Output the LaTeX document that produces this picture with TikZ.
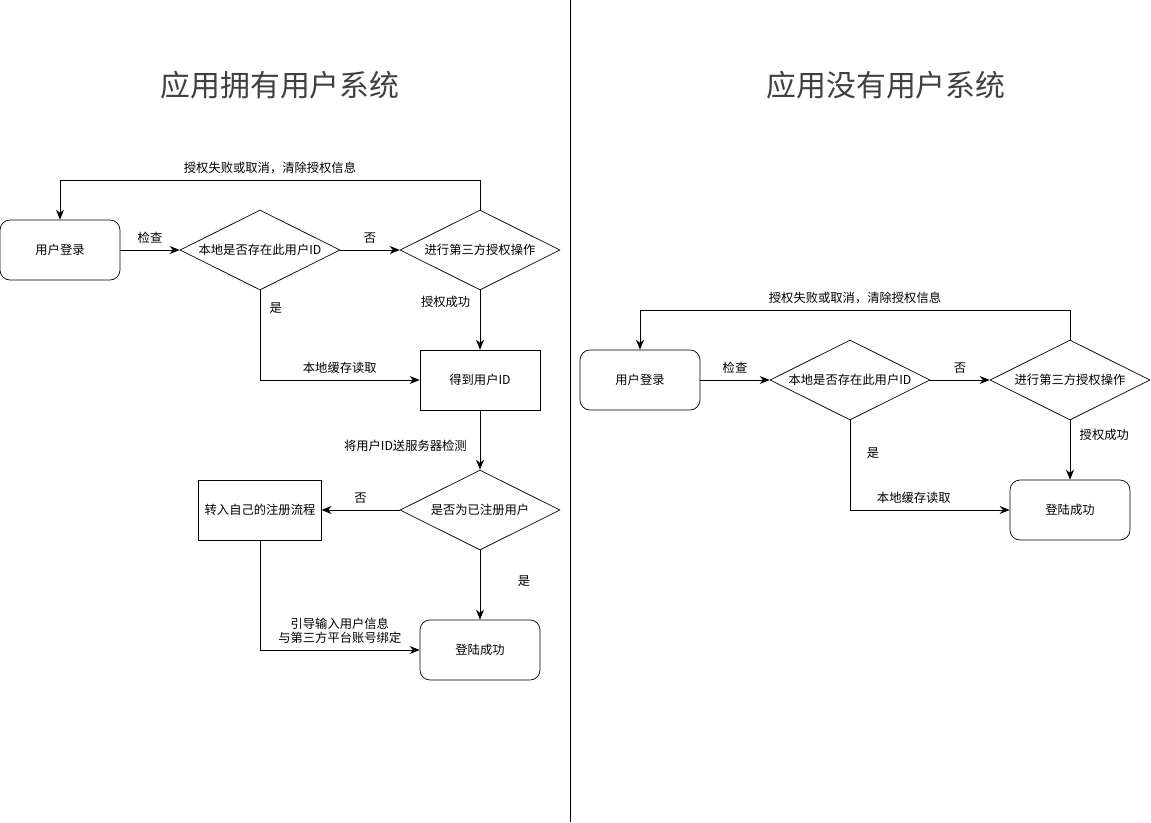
\documentclass[tikz,border=0pt]{standalone}
\usepackage{fontspec}
\setmainfont{Noto Sans CJK SC}
\usetikzlibrary{shapes.geometric,arrows.meta}
\begin{document}
\begin{tikzpicture}[x=0.02cm,y=-0.02cm]
	\tikzset{box/.style = {shape=rectangle,draw,minimum width=2.4cm,minimum height=1.2cm,font=\fontsize{7}{8}\selectfont}}
	\tikzset{rbox/.style = {box,rounded corners=0.2cm}}
	\tikzset{dec/.style = {shape=diamond,draw,aspect=2,minimum width=3.2cm,minimum height=1.6cm,inner sep=0pt,font=\fontsize{7}{8}\selectfont}}
	\tikzset{edge/.style = {-{Stealth[length=2mm,width=1.6mm]},draw}}
	\tikzset{lbl/.style = {font=\fontsize{7}{8}\selectfont,align=center}}
	\tikzset{title/.style = {font=\fontsize{17}{20}\selectfont,text=black!75}}
	\useasboundingbox (0,0) rectangle (1151,822);
	\draw (570,0) -- (570,822);
	% left: app has own user system
	\node[title] (t1) at (280,85) {应用拥有用户系统};
	\node[rbox] (login) at (60,250) {用户登录};
	\node[dec] (local) at (260,250) {本地是否存在此用户ID};
	\node[dec] (auth) at (480,250) {进行第三方授权操作};
	\node[box] (getid) at (480,380) {得到用户ID};
	\node[dec] (reg) at (480,510) {是否为已注册用户};
	\node[box] (own) at (260,510) {转入自己的注册流程};
	\node[rbox] (ok) at (480,650) {登陆成功};
	\coordinate (c1) at (480,180);
	\coordinate (c2) at (60,180);
	\path[edge] (auth.north) -- (c1) -- node[lbl,above] {授权失败或取消，清除授权信息} (c2) -- (login.north);
	\path[edge] (login) -- node[lbl,above] {检查} (local);
	\path[edge] (local) -- node[lbl,above] {否} (auth);
	\path[edge] (local.south) |- node[lbl,pos=0.1,right=2pt] {是} node[lbl,pos=0.75,above] {本地缓存读取} (getid.west);
	\path[edge] (auth.south) -- node[lbl,pos=0.2,left=2pt] {授权成功} (getid.north);
	\path[edge] (getid.south) -- node[lbl,pos=0.6,left=4pt] {将用户ID送服务器检测} (reg.north);
	\path[edge] (reg) -- node[lbl,above] {否} (own);
	\path[edge] (reg.south) -- node[lbl,right=18pt,pos=0.45] {是} (ok.north);
	\path[edge] (own.south) |- node[lbl,pos=0.75,above] {引导输入用户信息\\与第三方平台账号绑定} (ok.west);
	% right: app has no user system
	\node[title] (t2) at (886,85) {应用没有用户系统};
	\node[rbox] (login2) at (640,380) {用户登录};
	\node[dec] (local2) at (850,380) {本地是否存在此用户ID};
	\node[dec] (auth2) at (1070,380) {进行第三方授权操作};
	\node[rbox] (ok2) at (1070,510) {登陆成功};
	\coordinate (d1) at (1070,310);
	\coordinate (d2) at (640,310);
	\path[edge] (auth2.north) -- (d1) -- node[lbl,above] {授权失败或取消，清除授权信息} (d2) -- (login2.north);
	\path[edge] (login2) -- node[lbl,above] {检查} (local2);
	\path[edge] (local2) -- node[lbl,above] {否} (auth2);
	\path[edge] (local2.south) |- node[lbl,pos=0.18,right=6pt] {是} node[lbl,pos=0.7,above] {本地缓存读取} (ok2.west);
	\path[edge] (auth2.south) -- node[lbl,pos=0.25,right=2pt] {授权成功} (ok2.north);
\end{tikzpicture}
\end{document}
